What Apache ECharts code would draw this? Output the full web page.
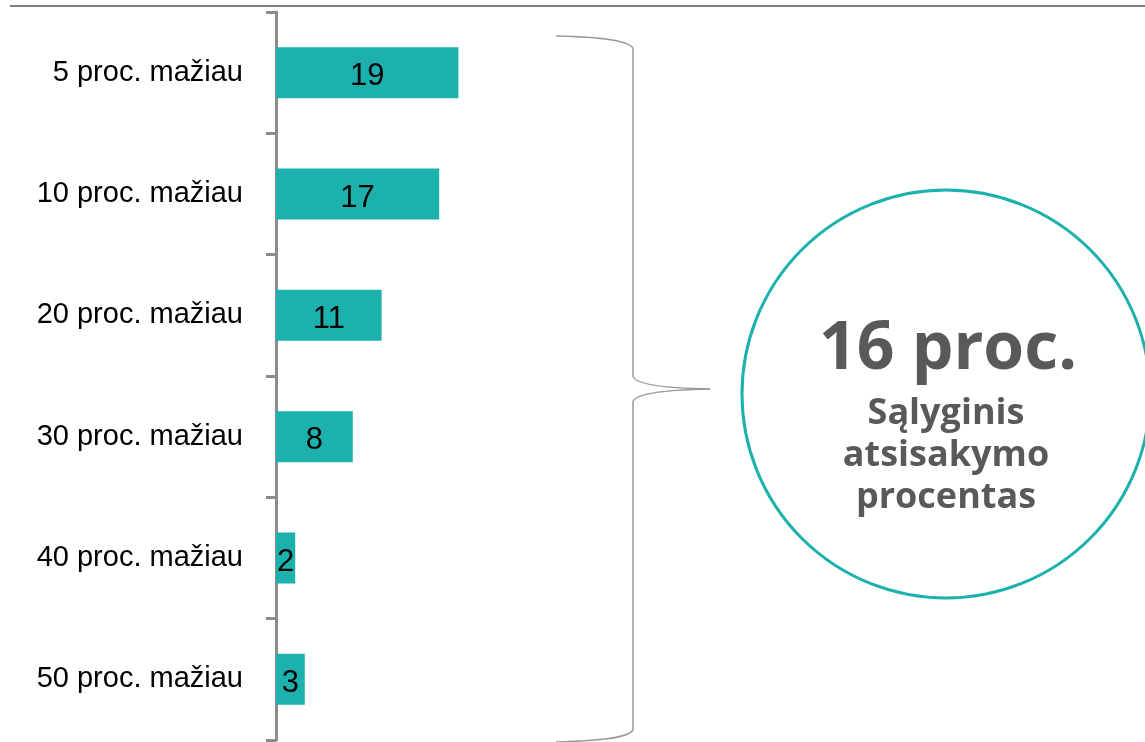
<!DOCTYPE html>
<html>
<head>
<meta charset="utf-8">
<script src="https://cdn.jsdelivr.net/npm/echarts@6/dist/echarts.min.js"></script>
<style>
  html, body { margin: 0; padding: 0; background: #fff; }
  #chart { width: 1145px; height: 742px; }
</style>
</head>
<body>
<div id="chart"></div>
<script>
  // kategorijos ir reikšmės
  var categories = ['5 proc. mažiau', '10 proc. mažiau', '20 proc. mažiau', '30 proc. mažiau', '40 proc. mažiau', '50 proc. mažiau'];
  var values = [19, 17, 11, 8, 2, 3];
  var bigText = '16 proc.';
  var noteLines = ['Sąlyginis', 'atsisakymo', 'procentas'];

  var teal = '#1CB1AD';
  var axisGrey = '#8c8c8c';
  var textGrey = '#595959';
  var braceStyle = { fill: null, stroke: '#9a9a9a', lineWidth: 1.5 };

  var chart = echarts.init(document.getElementById('chart'));

  var noteText = noteLines.map(function (t, i) {
    return {
      type: 'text',
      x: 946, y: 414 + i * 42,
      style: {
        text: t, textAlign: 'center', textVerticalAlign: 'middle',
        font: 'bold 36px "Open Sans", "Noto Sans", sans-serif', fill: textGrey
      }
    };
  });

  // figūrinis skliaustas
  function curve(x1, y1, c1x, c1y, c2x, c2y, x2, y2) {
    return {
      type: 'bezierCurve',
      shape: { x1: x1, y1: y1, cpx1: c1x, cpy1: c1y, cpx2: c2x, cpy2: c2y, x2: x2, y2: y2 },
      style: braceStyle
    };
  }
  function seg(x1, y1, x2, y2) {
    return { type: 'line', shape: { x1: x1, y1: y1, x2: x2, y2: y2 }, style: braceStyle };
  }
  var brace = [
    curve(556, 36, 600, 37, 628, 40, 633, 48),
    seg(633, 48, 633, 376),
    curve(633, 376, 634, 384, 660, 388, 710, 389),
    curve(710, 389, 660, 390, 634, 394, 633, 402),
    seg(633, 402, 633, 730),
    curve(633, 730, 628, 738, 600, 741, 556, 742)
  ];

  chart.setOption({
    animation: false,
    grid: { left: 276, top: 12, bottom: 2, width: 480 },
    xAxis: {
      type: 'value', min: 0, max: 50, show: false
    },
    yAxis: {
      type: 'category',
      data: categories,
      inverse: true,
      axisLine: { lineStyle: { color: axisGrey, width: 3 } },
      axisTick: { show: true, length: 10, lineStyle: { color: axisGrey, width: 3 } },
      axisLabel: {
        margin: 33, color: '#000',
        fontFamily: '"Liberation Sans", Arial, sans-serif', fontSize: 29
      }
    },
    series: [{
      type: 'bar',
      data: values,
      barWidth: 51,
      itemStyle: { color: teal },
      label: {
        show: true, position: 'inside', offset: [0, 4],
        color: '#000', fontFamily: '"Liberation Sans", Arial, sans-serif', fontSize: 31,
        formatter: '{c}'
      }
    }],
    graphic: [
      {
        type: 'line',
        shape: { x1: 10, y1: 6, x2: 1145, y2: 6 },
        style: { stroke: '#555', lineWidth: 1.5 }
      },
      {
        type: 'circle',
        shape: { cx: 946, cy: 394, r: 204 },
        style: { fill: null, stroke: teal, lineWidth: 3 }
      },
      {
        type: 'text',
        x: 948, y: 350,
        style: {
          text: bigText, textAlign: 'center', textVerticalAlign: 'middle',
          font: 'bold 66px "Open Sans", "Noto Sans", sans-serif', fill: textGrey
        }
      }
    ].concat(brace, noteText)
  });
</script>
</body>
</html>
